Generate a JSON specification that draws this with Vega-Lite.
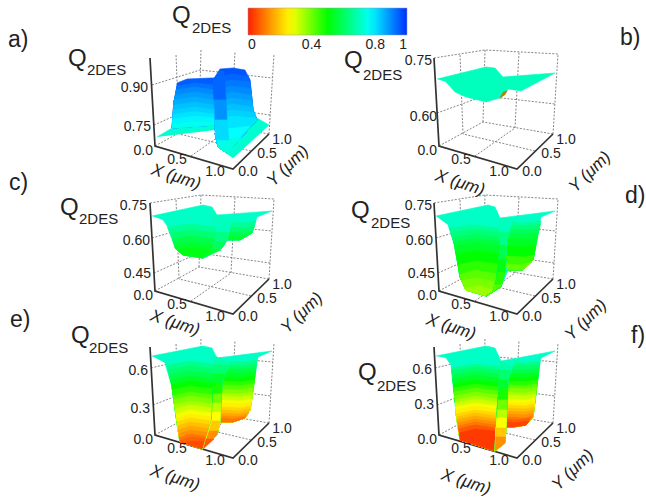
{"$schema":"https://vega.github.io/schema/vega-lite/v6.json","width":646,"height":498,"padding":0,"autosize":"none","background":"white","config":{"view":{"stroke":null},"font":"Liberation Sans","text":{"font":"Liberation Sans","fill":"#222"}},
"resolve":{"legend":{"fill":"independent"}},
"datasets":{
"grid":[
{"id":"a1","xs":[179,176],"ys":[134,54]},{"id":"a2","xs":[199,201],"ys":[122,50]},{"id":"a3","xs":[231,235],"ys":[128,52]},{"id":"a4","xs":[269,274],"ys":[134,54]},{"id":"a5","xs":[155,199,269],"ys":[146,122,134]},{"id":"a6","xs":[191,231],"ys":[156,128]},{"id":"a7","xs":[251,179],"ys":[151,134]},{"id":"a8","xs":[152,200,272],"ys":[85,70,78]},{"id":"a9","xs":[154,199,270],"ys":[125,105,115]},
{"id":"b1","xs":[463,460],"ys":[134,54]},{"id":"b2","xs":[483,485],"ys":[122,50]},{"id":"b3","xs":[515,519],"ys":[128,52]},{"id":"b4","xs":[553,558],"ys":[134,54]},{"id":"b5","xs":[439,483,553],"ys":[146,122,134]},{"id":"b6","xs":[475,515],"ys":[156,128]},{"id":"b7","xs":[535,463],"ys":[151,134]},{"id":"b8","xs":[437,484,555],"ys":[113,96,104]},{"id":"b9","xs":[434,485,558],"ys":[58,50,54]},
{"id":"c1","xs":[179,176],"ys":[279,199]},{"id":"c2","xs":[199,201],"ys":[267,195]},{"id":"c3","xs":[231,235],"ys":[273,197]},{"id":"c4","xs":[269,274],"ys":[279,199]},{"id":"c5","xs":[155,199,269],"ys":[291,267,279]},{"id":"c6","xs":[191,231],"ys":[301,273]},{"id":"c7","xs":[251,179],"ys":[296,279]},{"id":"c8","xs":[152,200,272],"ys":[238,224,231]},{"id":"c9","xs":[154,199,270],"ys":[273,253,263]},{"id":"c10","xs":[150,201,274],"ys":[203,195,199]},
{"id":"d1","xs":[463,460],"ys":[279,199]},{"id":"d2","xs":[483,485],"ys":[267,195]},{"id":"d3","xs":[515,519],"ys":[273,197]},{"id":"d4","xs":[553,558],"ys":[279,199]},{"id":"d5","xs":[439,483,553],"ys":[291,267,279]},{"id":"d6","xs":[475,515],"ys":[301,273]},{"id":"d7","xs":[535,463],"ys":[296,279]},{"id":"d8","xs":[436,484,556],"ys":[238,224,231]},{"id":"d9","xs":[438,483,554],"ys":[273,253,263]},{"id":"d10","xs":[434,485,558],"ys":[203,195,199]},
{"id":"e1","xs":[179,176],"ys":[423,343]},{"id":"e2","xs":[199,201],"ys":[411,339]},{"id":"e3","xs":[231,235],"ys":[417,341]},{"id":"e4","xs":[269,274],"ys":[423,343]},{"id":"e5","xs":[155,199,269],"ys":[435,411,423]},{"id":"e6","xs":[191,231],"ys":[445,417]},{"id":"e7","xs":[251,179],"ys":[440,423]},{"id":"e8","xs":[151,201,273],"ys":[368,356,362]},{"id":"e9","xs":[153,200,271],"ys":[405,387,396]},
{"id":"f1","xs":[463,460],"ys":[423,343]},{"id":"f2","xs":[483,485],"ys":[411,339]},{"id":"f3","xs":[515,519],"ys":[417,341]},{"id":"f4","xs":[553,558],"ys":[423,343]},{"id":"f5","xs":[439,483,553],"ys":[435,411,423]},{"id":"f6","xs":[475,515],"ys":[445,417]},{"id":"f7","xs":[535,463],"ys":[440,423]},{"id":"f8","xs":[435,485,557],"ys":[368,356,362]},{"id":"f9","xs":[437,484,555],"ys":[405,387,396]}
],
"frame":[
{"id":"a","xs":[150,155,233,269],"ys":[58,146,169,134]},{"id":"b","xs":[434,439,517,553],"ys":[58,146,169,134]},{"id":"c","xs":[150,155,233,269],"ys":[203,291,314,279]},{"id":"d","xs":[434,439,517,553],"ys":[203,291,314,279]},{"id":"e","xs":[150,155,233,269],"ys":[347,435,458,423]},{"id":"f","xs":[434,439,517,553],"ys":[347,435,458,423]}
],
"surf":[
{"id":"a01","q":0.72,"xs":[157,172,214,257,269,233,218,215],"ys":[137,128,122,118,125,158,147,130]},
{"id":"a02","q":0.95,"xs":[177,187,210,214,215,172,174],"ys":[83,79,78,78,125,128,100]},
{"id":"a02b","q":0.925,"xs":[176.5,195,214,215,172,174],"ys":[86,83,85,125,128,100]},
{"id":"a03","q":0.9,"xs":[176,195,214,215,172,174],"ys":[90,87,90,125,128,100]},
{"id":"a03b","q":0.88,"xs":[175,195,214,215,172,174],"ys":[95,92,95,125,128,100]},
{"id":"a04","q":0.86,"xs":[174,195,214,215,172],"ys":[100,97,100,125,128]},
{"id":"a04b","q":0.84,"xs":[173.5,195,214,215,172],"ys":[105,102,105,125,128]},
{"id":"a05","q":0.82,"xs":[173,195,214,215,172],"ys":[110,107,110,125,128]},
{"id":"a05b","q":0.8,"xs":[172.8,195,214.3,215,172],"ys":[114.5,111.5,114,125,128]},
{"id":"a06","q":0.78,"xs":[172.5,195,214.5,215,172],"ys":[119,116,118,125,128]},
{"id":"a07","q":0.75,"xs":[172,195,215,215,172],"ys":[124,122,122,125,128]},
{"id":"a08","q":0.96,"xs":[213,220,233,245,250,253,257,227,218,215],"ys":[80,69,68,70,80,110,120,153,147,133]},
{"id":"a08b","q":0.94,"xs":[213.5,232,248,250,253,257,227,218,215],"ys":[78,74,76,80,110,120,153,147,133]},
{"id":"a09","q":0.92,"xs":[213.5,232,250,253,257,227,218,215],"ys":[84,80,82,110,120,153,147,133]},
{"id":"a09b","q":0.9,"xs":[213.8,232,250.7,253,257,227,218,215],"ys":[90,86,88.5,110,120,153,147,133]},
{"id":"a10","q":0.88,"xs":[214,232,251.5,253,257,227,218,215],"ys":[96,92,95,110,120,153,147,133]},
{"id":"a10b","q":0.86,"xs":[214,232,252,253,257,227,218,215],"ys":[102,98,101,110,120,153,147,133]},
{"id":"a11","q":0.84,"xs":[214,232,253,253,257,227,218,215],"ys":[108,104,107,110,120,153,147,133]},
{"id":"a11b","q":0.82,"xs":[214.3,232,254,257,227,218,215],"ys":[114,110,112.5,120,153,147,133]},
{"id":"a12","q":0.8,"xs":[214.5,232,256,257,227,218,215],"ys":[120,116,118,120,153,147,133]},
{"id":"a13","q":0.77,"xs":[215,235,250,227,218],"ys":[130,128,126,153,147]},
{"id":"a14","q":0.74,"xs":[217,232,241,227,218],"ys":[143,138,138,153,147]},
{"id":"a15","q":0.94,"xs":[213,220,224,226,214],"ys":[80,70,72,100,100]},
{"id":"a16","q":0.89,"xs":[214,226,227,215],"ys":[100,100,120,120]},
{"id":"a17","q":0.81,"xs":[215,227,229,216],"ys":[120,120,140,140]},
{"id":"b01","q":0.7,"xs":[437,486,495,503,555,521,508,500,486,466,455,446],"ys":[79,67,68,77,73,91,89,98,102,97,92,82]},
{"id":"c01","q":0.71,"xs":[152,203,212,217,272,257,252,240,227,222,203,183,175,170,163],"ys":[216,205,207,215,211,217,233,240,240,248,258,255,248,230,220]},
{"id":"c02","q":0.66,"xs":[231,245,256,252,240,227],"ys":[222,223,221,233,240,240]},
{"id":"c03","q":0.62,"xs":[230,245,254.5,252,240,227],"ys":[227,228,226,233,240,240]},
{"id":"c04","q":0.58,"xs":[228.5,245,252.5,252,240,227],"ys":[232,233,231,233,240,240]},
{"id":"c05","q":0.55,"xs":[228,240,250,240,227],"ys":[236,237,234,240,240]},
{"id":"c06","q":0.66,"xs":[167,190,216,217,213,203,183,175],"ys":[227,224,227,233,250,258,255,248]},
{"id":"c07","q":0.62,"xs":[171,190,217,213,203,183,175],"ys":[233,230,233,250,258,255,248]},
{"id":"c08","q":0.58,"xs":[172,190,215.5,213,203,183,175],"ys":[239,236,239,250,258,255,248]},
{"id":"c09","q":0.55,"xs":[174,190,214,213,203,183,175],"ys":[245,242,245,250,258,255,248]},
{"id":"c10","q":0.52,"xs":[177,190,212,203,183],"ys":[250,248,250,258,255]},
{"id":"c11","q":0.7,"xs":[213,217,232,227,222,203,213,217],"ys":[217,215,220,240,248,258,250,233]},
{"id":"c12","q":0.64,"xs":[217,228,227,222,203,213],"ys":[232,232,240,248,258,250]},
{"id":"c13","q":0.6,"xs":[215,226,222,203,213],"ys":[242,242,248,258,250]},
{"id":"c14","q":0.56,"xs":[213,221,203],"ys":[250,250,258]},
{"id":"d01","q":0.71,"xs":[436,488,495,500,555,541,538,533,523,508,501,486,466,460,455,448],"ys":[216,205,207,218,211,217,233,260,270,270,287,296,290,277,247,225]},
{"id":"d02","q":0.66,"xs":[512,525,541,538,533,523,508],"ys":[222,223,221,233,260,270,270]},
{"id":"d02b","q":0.63,"xs":[511,525,540.5,538,533,523,508],"ys":[225,226,224,233,260,270,270]},
{"id":"d03","q":0.6,"xs":[510,525,540,538,533,523,508],"ys":[229,230,228,233,260,270,270]},
{"id":"d03b","q":0.57,"xs":[508.5,525,538.5,533,523,508],"ys":[233,234,232,260,270,270]},
{"id":"d04","q":0.54,"xs":[507,525,537,533,523,508],"ys":[238,239,237,260,270,270]},
{"id":"d05","q":0.5,"xs":[506,525,536,533,523,508],"ys":[246,247,245,260,270,270]},
{"id":"d06","q":0.45,"xs":[505.5,525,534,533,523,508],"ys":[256,257,255,260,270,270]},
{"id":"d07","q":0.41,"xs":[505,520,532,523,508],"ys":[264,265,262,270,270]},
{"id":"d08","q":0.66,"xs":[449,475,499,500,496,493,486,466,460,455],"ys":[228,225,228,250,280,292,296,290,277,247]},
{"id":"d08b","q":0.63,"xs":[450.5,475,499.5,500,496,493,486,466,460,455],"ys":[233,229.5,232.5,250,280,292,296,290,277,247]},
{"id":"d09","q":0.6,"xs":[452,475,500,500,496,493,486,466,460,455],"ys":[238,234,237,250,280,292,296,290,277,247]},
{"id":"d09b","q":0.57,"xs":[453,475,500,500,496,493,486,466,460,455],"ys":[242,238.5,241.5,250,280,292,296,290,277,247]},
{"id":"d10","q":0.54,"xs":[454,475,500,500,496,493,486,466,460],"ys":[246,243,246,250,280,292,296,290,277]},
{"id":"d11","q":0.5,"xs":[456,475,499.5,496,493,486,466,460],"ys":[254,251,254,280,292,296,290,277]},
{"id":"d12","q":0.46,"xs":[458,475,498,496,493,486,466,460],"ys":[265,261,264,280,292,296,290,277]},
{"id":"d13","q":0.42,"xs":[459,475,497,496,493,486,466,460],"ys":[275,270,274,280,292,296,290,277]},
{"id":"d14","q":0.39,"xs":[461,475,496,493,486,466],"ys":[281,278,282,292,296,290]},
{"id":"d15","q":0.36,"xs":[464,480,493,486,466],"ys":[288,286,290,296,290]},
{"id":"d16","q":0.7,"xs":[499,501,513,506,505,501,486,493,496,500],"ys":[219,218,220,242,270,287,296,292,280,250]},
{"id":"d17","q":0.64,"xs":[500,509,506,505,501,486,493,496,500],"ys":[232,232,242,270,287,296,292,280,250]},
{"id":"d18","q":0.58,"xs":[500,506,505,501,486,493,496,500],"ys":[245,245,270,287,296,292,280,250]},
{"id":"d19","q":0.52,"xs":[498,505.5,505,501,486,493,496],"ys":[259,259,270,287,296,292,280]},
{"id":"d20","q":0.47,"xs":[497,505,501,486,493,496],"ys":[272,272,287,296,292,280]},
{"id":"d21","q":0.42,"xs":[494,502,486,493],"ys":[285,285,296,292]},
{"id":"e01","q":0.71,"xs":[152,203,212,217,272,258,257,250,245,233,220,217,203,180,177,172,165],"ys":[356,346,348,358,351,357,363,410,418,422,422,435,449,442,423,387,363]},
{"id":"e02","q":0.65,"xs":[230,240,257,250,245,233,220],"ys":[361,362,360,410,418,422,422]},
{"id":"e02b","q":0.615,"xs":[228,240,256.5,250,245,233,220],"ys":[365,366,364,410,418,422,422]},
{"id":"e03","q":0.58,"xs":[227,240,256,250,245,233,220],"ys":[368,369,367,410,418,422,422]},
{"id":"e03b","q":0.54,"xs":[225.5,240,255.5,250,245,233,220],"ys":[372,373,371,410,418,422,422]},
{"id":"e04","q":0.5,"xs":[224,240,255,250,245,233,220],"ys":[377,378,376,410,418,422,422]},
{"id":"e04b","q":0.46,"xs":[223,240,254.5,250,245,233,220],"ys":[381,382,380,410,418,422,422]},
{"id":"e05","q":0.42,"xs":[222,240,254,250,245,233,220],"ys":[385,386,384,410,418,422,422]},
{"id":"e05b","q":0.385,"xs":[221.5,240,253.5,250,245,233,220],"ys":[389,390,388,410,418,422,422]},
{"id":"e06","q":0.35,"xs":[221,240,253,250,245,233,220],"ys":[393,394,392,410,418,422,422]},
{"id":"e06b","q":0.315,"xs":[221,240,252.5,250,245,233,220],"ys":[396,397,395,410,418,422,422]},
{"id":"e07","q":0.28,"xs":[221,240,252,250,245,233,220],"ys":[400,401,399,410,418,422,422]},
{"id":"e07b","q":0.25,"xs":[221,240,251.5,250,245,233,220],"ys":[403,404,402,410,418,422,422]},
{"id":"e08","q":0.22,"xs":[221,240,251,250,245,233,220],"ys":[407,408,406,410,418,422,422]},
{"id":"e08b","q":0.19,"xs":[220.5,239,250,245,233,220],"ys":[410,411,409,418,422,422]},
{"id":"e09","q":0.16,"xs":[220,238,249,245,233,220],"ys":[413,414,412,418,422,422]},
{"id":"e09b","q":0.13,"xs":[220,235,247,245,233,220],"ys":[415.5,416.5,415,418,422,422]},
{"id":"e10","q":0.1,"xs":[220,233,245,245,233,220],"ys":[418,419,417,418,422,422]},
{"id":"e11","q":0.65,"xs":[166,190,213,213,212,210,203,180,177,172],"ys":[365,361,364,387,420,440,449,442,423,387]},
{"id":"e11b","q":0.615,"xs":[168,190,213,213,212,210,203,180,177,172],"ys":[370,366,369,387,420,440,449,442,423,387]},
{"id":"e12","q":0.58,"xs":[169,190,213,213,212,210,203,180,177,172],"ys":[375,371,374,387,420,440,449,442,423,387]},
{"id":"e12b","q":0.54,"xs":[170,190,213,213,212,210,203,180,177,172],"ys":[380,376,379,387,420,440,449,442,423,387]},
{"id":"e13","q":0.5,"xs":[171,190,213,213,212,210,203,180,177,172],"ys":[385,381,384,387,420,440,449,442,423,387]},
{"id":"e13b","q":0.46,"xs":[172,190,213,212,210,203,180,177],"ys":[390,386,389,420,440,449,442,423]},
{"id":"e14","q":0.42,"xs":[173,190,213,212,210,203,180,177],"ys":[396,392,395,420,440,449,442,423]},
{"id":"e14b","q":0.385,"xs":[173.5,190,212.5,212,210,203,180,177],"ys":[400,396,399,420,440,449,442,423]},
{"id":"e15","q":0.35,"xs":[174,190,212,212,210,203,180,177],"ys":[405,401,404,420,440,449,442,423]},
{"id":"e15b","q":0.315,"xs":[175,190,212,212,210,203,180,177],"ys":[409,405,408,420,440,449,442,423]},
{"id":"e16","q":0.28,"xs":[176,190,212,212,210,203,180,177],"ys":[414,410,413,420,440,449,442,423]},
{"id":"e16b","q":0.25,"xs":[176.5,190,212,212,210,203,180,177],"ys":[418,414,417,420,440,449,442,423]},
{"id":"e17","q":0.22,"xs":[177,190,212,210,203,180],"ys":[422,418,421,440,449,442]},
{"id":"e17b","q":0.19,"xs":[177.5,190,211.5,210,203,180],"ys":[426,422,425,440,449,442]},
{"id":"e18","q":0.16,"xs":[178,190,211,210,203,180],"ys":[430,426,429,440,449,442]},
{"id":"e18b","q":0.13,"xs":[178.5,190,210.5,210,203,180],"ys":[434,430,433,440,449,442]},
{"id":"e19","q":0.1,"xs":[179,190,210,210,203,180],"ys":[438,434,437,440,449,442]},
{"id":"e19b","q":0.075,"xs":[179.5,191,209.5,203,180],"ys":[441,437,439,449,442]},
{"id":"e20","q":0.05,"xs":[180,192,209,203,180],"ys":[444,441,442,449,442]},
{"id":"e21","q":0.68,"xs":[213,217,230,222,220,217,203,212,213],"ys":[358,358,362,383,422,435,449,420,387]},
{"id":"e22","q":0.62,"xs":[213,228,222,220,217,203,212,213],"ys":[365,365,383,422,435,449,420,387]},
{"id":"e23","q":0.55,"xs":[213,225,222,220,217,203,212,213],"ys":[374,374,383,422,435,449,420,387]},
{"id":"e24","q":0.48,"xs":[213,222,220,217,203,212,213],"ys":[383,383,422,435,449,420,387]},
{"id":"e25","q":0.4,"xs":[213,221.5,220,217,203,212],"ys":[394,394,422,435,449,420]},
{"id":"e26","q":0.33,"xs":[212.5,221,220,217,203,212],"ys":[403,403,422,435,449,420]},
{"id":"e27","q":0.27,"xs":[212,220.5,220,217,203,212],"ys":[412,412,422,435,449,420]},
{"id":"e28","q":0.2,"xs":[212,220,217,203],"ys":[421,421,435,449]},
{"id":"e29","q":0.13,"xs":[209,218,217,203],"ys":[431,431,435,449]},
{"id":"e30","q":0.07,"xs":[206,214,203],"ys":[439,439,449]},
{"id":"f01","q":0.71,"xs":[436,486,495,501,555,541,540,533,526,513,506,505,495,460,456,451,446],"ys":[356,346,348,361,351,358,363,417,425,427,427,443,451,440,413,365,358]},
{"id":"f02","q":0.65,"xs":[514,525,540,533,526,513,506],"ys":[362,363,361,417,425,427,427]},
{"id":"f02b","q":0.615,"xs":[513,525,539.5,533,526,513,506],"ys":[365,366,364,417,425,427,427]},
{"id":"f03","q":0.58,"xs":[512,525,539,533,526,513,506],"ys":[369,370,368,417,425,427,427]},
{"id":"f03b","q":0.54,"xs":[510,525,538.5,533,526,513,506],"ys":[373,374,372,417,425,427,427]},
{"id":"f04","q":0.5,"xs":[509,525,538,533,526,513,506],"ys":[377,378,376,417,425,427,427]},
{"id":"f04b","q":0.46,"xs":[508.5,525,537.5,533,526,513,506],"ys":[381,382,380,417,425,427,427]},
{"id":"f05","q":0.42,"xs":[508,525,537,533,526,513,506],"ys":[385,386,384,417,425,427,427]},
{"id":"f05b","q":0.385,"xs":[507.5,525,536.5,533,526,513,506],"ys":[388,389,387,417,425,427,427]},
{"id":"f06","q":0.35,"xs":[507,525,536,533,526,513,506],"ys":[392,393,391,417,425,427,427]},
{"id":"f06b","q":0.315,"xs":[507,525,535.5,533,526,513,506],"ys":[395,396,394,417,425,427,427]},
{"id":"f07","q":0.28,"xs":[507,525,535,533,526,513,506],"ys":[399,400,398,417,425,427,427]},
{"id":"f07b","q":0.25,"xs":[507,525,534.5,533,526,513,506],"ys":[402,403,401,417,425,427,427]},
{"id":"f08","q":0.22,"xs":[507,525,534,533,526,513,506],"ys":[405,406,404,417,425,427,427]},
{"id":"f08b","q":0.19,"xs":[507,525,534,533,526,513,506],"ys":[408,409,407,417,425,427,427]},
{"id":"f09","q":0.16,"xs":[507,525,533.5,533,526,513,506],"ys":[411,412,410,417,425,427,427]},
{"id":"f09b","q":0.13,"xs":[506.5,525,533,533,526,513,506],"ys":[414,415,413,417,425,427,427]},
{"id":"f10","q":0.1,"xs":[506,525,532,526,513,506],"ys":[417,418,416,425,427,427]},
{"id":"f10b","q":0.07,"xs":[506,520,530.5,526,513,506],"ys":[419,420,418,425,427,427]},
{"id":"f11","q":0.04,"xs":[506,515,529,526,513,506],"ys":[422,423,421,425,427,427]},
{"id":"f12","q":0.65,"xs":[451,475,500,498,496,495,460,456],"ys":[368,364,367,397,427,451,440,413]},
{"id":"f12b","q":0.615,"xs":[451.5,475,499.5,498,496,495,460,456],"ys":[371,367,370,397,427,451,440,413]},
{"id":"f13","q":0.58,"xs":[452,475,499,498,496,495,460,456],"ys":[375,371,374,397,427,451,440,413]},
{"id":"f13b","q":0.54,"xs":[452.5,475,499,498,496,495,460,456],"ys":[379,375,378,397,427,451,440,413]},
{"id":"f14","q":0.5,"xs":[453,475,499,498,496,495,460,456],"ys":[384,380,383,397,427,451,440,413]},
{"id":"f14b","q":0.46,"xs":[453.5,475,499,498,496,495,460,456],"ys":[388,384,387,397,427,451,440,413]},
{"id":"f15","q":0.42,"xs":[454,475,499,498,496,495,460,456],"ys":[392,388,391,397,427,451,440,413]},
{"id":"f15b","q":0.385,"xs":[454.5,475,498.5,498,496,495,460,456],"ys":[396,392,395,397,427,451,440,413]},
{"id":"f16","q":0.35,"xs":[455,475,498,496,495,460,456],"ys":[400,396,399,427,451,440,413]},
{"id":"f16b","q":0.315,"xs":[455,475,497.5,496,495,460,456],"ys":[403,399,402,427,451,440,413]},
{"id":"f17","q":0.28,"xs":[455,475,497,496,495,460,456],"ys":[407,403,406,427,451,440,413]},
{"id":"f17b","q":0.25,"xs":[455.5,475,497,496,495,460,456],"ys":[410,406,409,427,451,440,413]},
{"id":"f18","q":0.22,"xs":[456,475,497,496,495,460],"ys":[414,410,413,427,451,440]},
{"id":"f18b","q":0.19,"xs":[456.5,475,496.5,496,495,460],"ys":[417,413,416,427,451,440]},
{"id":"f19","q":0.16,"xs":[457,475,496,496,495,460],"ys":[420,416,419,427,451,440]},
{"id":"f19b","q":0.13,"xs":[457.5,475,496,496,495,460],"ys":[423,419,422,427,451,440]},
{"id":"f20","q":0.1,"xs":[458,475,496,495,460],"ys":[426,422,425,451,440]},
{"id":"f20b","q":0.065,"xs":[458.5,475,496,495,460],"ys":[429,425,428,451,440]},
{"id":"f21","q":0.03,"xs":[459,475,496,495,460],"ys":[433,429,431,451,440]},
{"id":"f22","q":0.68,"xs":[500,501,513,508,506,505,495,496,498],"ys":[361,361,367,380,427,443,451,427,397]},
{"id":"f23","q":0.62,"xs":[499.5,511,508,506,505,495,496,498],"ys":[370,370,380,427,443,451,427,397]},
{"id":"f24","q":0.55,"xs":[499,508,506,505,495,496,498],"ys":[380,380,427,443,451,427,397]},
{"id":"f25","q":0.48,"xs":[498.5,507.5,506,505,495,496,498],"ys":[389,389,427,443,451,427,397]},
{"id":"f26","q":0.4,"xs":[498,507,506,505,495,496],"ys":[400,400,427,443,451,427]},
{"id":"f27","q":0.33,"xs":[497,507,506,505,495,496],"ys":[410,410,427,443,451,427]},
{"id":"f28","q":0.27,"xs":[496.5,506.5,506,505,495,496],"ys":[418,418,427,443,451,427]},
{"id":"f29","q":0.2,"xs":[496,506,505,495],"ys":[428,428,443,451]},
{"id":"f30","q":0.13,"xs":[495.5,505.5,505,495],"ys":[437,437,443,451]}
]
},
"encoding":{"x":{"field":"x","type":"quantitative","scale":{"domain":[0,646],"nice":false,"zero":false},"axis":null},"y":{"field":"y","type":"quantitative","scale":{"domain":[498,0],"nice":false,"zero":false},"axis":null}},
"layer":[
{"data":{"name":"grid"},"transform":[{"flatten":["xs","ys"],"as":["x","y"]}],"mark":{"type":"line","color":"#777","strokeWidth":0.9,"strokeDash":[2,1.5]},"encoding":{"detail":{"field":"id"},"order":{"value":null}}},
{"data":{"name":"frame"},"transform":[{"flatten":["xs","ys"],"as":["x","y"]}],"mark":{"type":"line","color":"#333","strokeWidth":1.7},"encoding":{"detail":{"field":"id"},"order":{"value":null}}},
{"data":{"name":"surf"},"transform":[{"flatten":["xs","ys"],"as":["x","y"]}],"mark":{"type":"line","strokeWidth":0.6,"strokeJoin":"round","filled":true},"encoding":{"detail":{"field":"id"},"order":{"value":null},
"fill":{"field":"q","type":"quantitative","scale":{"domain":[0,0.13,0.27,0.5,0.77,1],"range":["#ff2000","#ff9000","#ffff00","#00ff00","#00ffff","#0030ff"],"interpolate":"rgb"},"legend":null},
"stroke":{"field":"q","type":"quantitative","scale":{"domain":[0,0.13,0.27,0.5,0.77,1],"range":["#ff2000","#ff9000","#ffff00","#00ff00","#00ffff","#0030ff"],"interpolate":"rgb"},"legend":null}}},
{"data":{"values":[{"q":0.4,"x":311,"y":20}]},"mark":{"type":"rect","width":1,"height":1},"encoding":{
"fill":{"field":"q","type":"quantitative","scale":{"domain":[0,0.13,0.27,0.5,0.77,1],"range":["#ff2000","#ff9000","#ffff00","#00ff00","#00ffff","#0030ff"],"interpolate":"rgb"},"legend":{"type":"gradient","orient":"none","legendX":248,"legendY":8,"direction":"horizontal","title":null,"gradientLength":159,"gradientThickness":27,"gradientStrokeColor":"#99a","gradientStrokeWidth":0.5,"values":[0,0.4,0.8,1],"format":".1~f","labelFontSize":14,"labelColor":"#222","labelFont":"Liberation Sans","labelOverlap":false,"labelOffset":3}}}},
{"data":{"values":[{"id":"spot","xs":[499,503,508,505],"ys":[99,92,90,95]}]},"transform":[{"flatten":["xs","ys"],"as":["x","y"]}],"mark":{"type":"line","filled":true,"color":"#a8870f"},"encoding":{"detail":{"field":"id"},"order":{"value":null}}},
{"data":{"values":[{"t":"a)","x":8,"y":47},{"t":"b)","x":620,"y":45},{"t":"c)","x":9,"y":190},{"t":"d)","x":625,"y":203},{"t":"e)","x":10,"y":327},{"t":"f)","x":631,"y":343}]},"mark":{"type":"text","align":"left","baseline":"alphabetic","fontSize":23},"encoding":{"text":{"field":"t"}}},
{"data":{"values":[{"t":"Q","x":172,"y":23},{"t":"Q","x":68,"y":66},{"t":"Q","x":344,"y":68},{"t":"Q","x":60,"y":215},{"t":"Q","x":351,"y":218},{"t":"Q","x":71,"y":343},{"t":"Q","x":358,"y":380}]},"mark":{"type":"text","align":"left","baseline":"alphabetic","fontSize":24},"encoding":{"text":{"field":"t"}}},
{"data":{"values":[{"t":"2DES","x":192,"y":33},{"t":"2DES","x":87,"y":75},{"t":"2DES","x":363,"y":80},{"t":"2DES","x":79,"y":224},{"t":"2DES","x":371,"y":228},{"t":"2DES","x":89,"y":353},{"t":"2DES","x":377,"y":391}]},"mark":{"type":"text","align":"left","baseline":"alphabetic","fontSize":15},"encoding":{"text":{"field":"t"}}},
{"data":{"values":[{"t":"0.90","x":148,"y":92},{"t":"0.75","x":151,"y":131},{"t":"0.0","x":153,"y":155},{"t":"0.75","x":432,"y":65},{"t":"0.60","x":437,"y":121},{"t":"0.0","x":437,"y":155},{"t":"0.75","x":147,"y":210},{"t":"0.60","x":150,"y":245},{"t":"0.45","x":151,"y":278},{"t":"0.0","x":153,"y":300},{"t":"0.75","x":432,"y":210},{"t":"0.60","x":433,"y":245},{"t":"0.45","x":435,"y":278},{"t":"0.0","x":437,"y":300},{"t":"0.6","x":148,"y":375},{"t":"0.3","x":150,"y":413},{"t":"0.0","x":153,"y":444},{"t":"0.6","x":432,"y":374},{"t":"0.3","x":434,"y":409},{"t":"0.0","x":437,"y":444}]},"mark":{"type":"text","align":"right","baseline":"alphabetic","fontSize":14},"encoding":{"text":{"field":"t"}}},
{"data":{"values":[{"t":"0.5","x":177,"y":164},{"t":"1.0","x":215,"y":176},{"t":"0.0","x":248,"y":176},{"t":"0.5","x":267,"y":158},{"t":"1.0","x":282,"y":144},{"t":"0.5","x":461,"y":164},{"t":"1.0","x":499,"y":176},{"t":"0.0","x":532,"y":176},{"t":"0.5","x":551,"y":158},{"t":"1.0","x":566,"y":144},{"t":"0.5","x":177,"y":309},{"t":"1.0","x":215,"y":321},{"t":"0.0","x":248,"y":321},{"t":"0.5","x":267,"y":303},{"t":"1.0","x":282,"y":289},{"t":"0.5","x":461,"y":309},{"t":"1.0","x":499,"y":321},{"t":"0.0","x":532,"y":321},{"t":"0.5","x":551,"y":303},{"t":"1.0","x":566,"y":289},{"t":"0.5","x":177,"y":453},{"t":"1.0","x":215,"y":465},{"t":"0.0","x":248,"y":465},{"t":"0.5","x":267,"y":447},{"t":"1.0","x":282,"y":433},{"t":"0.5","x":461,"y":453},{"t":"1.0","x":499,"y":465},{"t":"0.0","x":532,"y":465},{"t":"0.5","x":551,"y":447},{"t":"1.0","x":566,"y":433}]},"mark":{"type":"text","align":"center","baseline":"alphabetic","fontSize":14},"encoding":{"text":{"field":"t"}}},
{"data":{"values":[{"t":"X (μm)","x":176,"y":177},{"t":"X (μm)","x":460,"y":183},{"t":"X (μm)","x":175,"y":323},{"t":"X (μm)","x":451,"y":327},{"t":"X (μm)","x":175,"y":478},{"t":"X (μm)","x":466,"y":482}]},"mark":{"type":"text","align":"center","baseline":"middle","fontSize":17,"fontStyle":"italic","angle":18},"encoding":{"text":{"field":"t"}}},
{"data":{"values":[{"t":"Y (μm)","x":288,"y":166},{"t":"Y (μm)","x":590,"y":172},{"t":"Y (μm)","x":302,"y":313},{"t":"Y (μm)","x":586,"y":320},{"t":"Y (μm)","x":573,"y":470}]},"mark":{"type":"text","align":"center","baseline":"middle","fontSize":17,"fontStyle":"italic","angle":-44},"encoding":{"text":{"field":"t"}}}
]}
